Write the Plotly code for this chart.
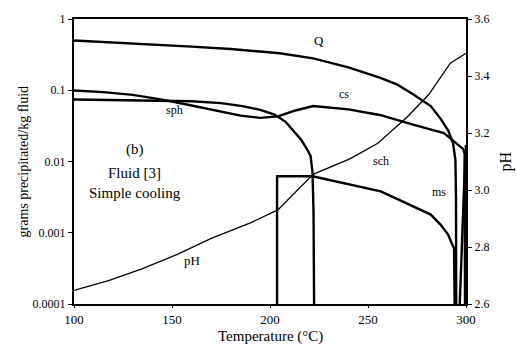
import math
import plotly.graph_objects as go

# Temperature grid (°C) and precipitated amounts (g/kg fluid) per mineral
q_T = [100, 120, 140, 160, 180, 200, 205, 222, 240, 256, 265, 273, 282, 287, 291, 293.4, 294.6, 294.9, 295.0]
q_val = [0.50, 0.47, 0.44, 0.41, 0.38, 0.345, 0.33, 0.28, 0.21, 0.15, 0.12, 0.088, 0.06, 0.04, 0.027, 0.018, 0.0105, 0.003, 0.0001]

cs_T = [100, 115, 130, 145, 160, 175, 185, 195, 204, 213, 222, 240, 256, 273, 282, 288.7, 294, 298.5, 299.3, 299.5]
cs_val = [0.099, 0.094, 0.086, 0.074, 0.061, 0.050, 0.044, 0.041, 0.043, 0.052, 0.060, 0.054, 0.045, 0.033, 0.028, 0.025, 0.019, 0.015, 0.013, 0.0001]

sph_T = [100, 120, 140, 160, 175, 186, 195, 202, 208, 212, 216, 219.2, 220.7, 221.7, 222.2, 222.5]
sph_val = [0.074, 0.073, 0.072, 0.070, 0.066, 0.060, 0.053, 0.046, 0.036, 0.027, 0.020, 0.0144, 0.012, 0.007, 0.002, 0.0001]

sch_T = [203.6, 203.6, 221.7, 230, 241, 256.5, 267, 275, 282, 287, 290.8, 293.9, 294.2]
sch_val = [0.0001, 0.0062, 0.0062, 0.0055, 0.0047, 0.0038, 0.0028, 0.0022, 0.0018, 0.0013, 0.00095, 0.0006, 0.0001]

ms_T = [296.8, 298.0, 299.0, 299.6, 300.0]
ms_val = [0.0001, 0.0009, 0.005, 0.012, 0.017]

# pH of the fluid (right axis)
ph_T = [100, 118, 135, 153, 170, 190, 204, 222, 241, 255, 270, 281, 292, 300]
ph_val = [2.648, 2.683, 2.724, 2.775, 2.830, 2.885, 2.930, 3.055, 3.110, 3.164, 3.256, 3.335, 3.445, 3.48]

x_ticks = [100, 150, 200, 250, 300]
y_ticks = [0.0001, 0.001, 0.01, 0.1, 1]
y_tick_text = ["0.0001", "0.001", "0.01", "0.1", "1"]
ph_ticks = [2.6, 2.8, 3.0, 3.2, 3.4, 3.6]
ph_tick_text = ["2.6", "2.8", "3.0", "3.2", "3.4", "3.6"]

FONT = "Liberation Serif"
thick = dict(color="black", width=2.4)

fig = go.Figure()
for T, v in [(q_T, q_val), (cs_T, cs_val), (sph_T, sph_val), (sch_T, sch_val), (ms_T, ms_val)]:
    fig.add_trace(go.Scatter(x=T, y=v, mode="lines", line=thick, showlegend=False))

fig.add_trace(go.Scatter(x=ph_T, y=ph_val, mode="lines", yaxis="y2",
                         line=dict(color="black", width=1.3), showlegend=False))

# In-plot labels
labels = [
    ("Q", 225, 0.50, 13),
    ("cs", 237.5, 0.088, 12),
    ("sph", 151.5, 0.053, 12),
    ("sch", 256.5, 0.0102, 12),
    ("ms", 286, 0.0037, 12),
    ("pH", 160, 0.00041, 13),
    ("(b)", 131, 0.0148, 15),
    ("Fluid [3]", 131, 0.0069, 15),
    ("Simple cooling", 131, 0.0036, 15),
]
for txt, x, y, size in labels:
    fig.add_annotation(x=x, y=math.log10(y), text=txt, showarrow=False,
                       font=dict(family=FONT, size=size, color="black"),
                       xanchor="center", yanchor="middle")

# Axis titles
fig.add_annotation(x=0, y=0.5, xref="paper", yref="paper", text="grams precipitated/kg fluid",
                   textangle=-90, showarrow=False, xshift=-51,
                   xanchor="center", yanchor="middle",
                   font=dict(family=FONT, size=14, color="black"))
fig.add_annotation(x=1, y=0.5, xref="paper", yref="paper", text="pH",
                   textangle=-90, showarrow=False, xshift=39,
                   xanchor="center", yanchor="middle",
                   font=dict(family=FONT, size=16, color="black"))
fig.add_annotation(x=0.5, y=0, xref="paper", yref="paper", text="Temperature (°C)",
                   showarrow=False, yshift=-32, xanchor="center", yanchor="middle",
                   font=dict(family=FONT, size=15, color="black"))

fig.update_layout(
    width=517, height=345,
    margin=dict(l=74, r=51, t=13, b=41),
    paper_bgcolor="white", plot_bgcolor="white",
    font=dict(family=FONT, size=12, color="black"),
    xaxis=dict(range=[100, 300], tickvals=x_ticks, ticktext=[str(t) for t in x_ticks],
               showgrid=False, zeroline=False, showline=True, linecolor="black", linewidth=2,
               mirror=True, ticks="outside", ticklen=2, tickcolor="black",
               tickfont=dict(family=FONT, size=13)),
    yaxis=dict(type="log", range=[-4, 0], tickvals=y_ticks, ticktext=y_tick_text,
               showgrid=False, zeroline=False, showline=True, linecolor="black", linewidth=2,
               ticks="outside", ticklen=4, tickcolor="black",
               tickfont=dict(family=FONT, size=12)),
    yaxis2=dict(overlaying="y", side="right", range=[2.6, 3.6], tickvals=ph_ticks,
                ticktext=ph_tick_text, showgrid=False, zeroline=False, showline=True,
                linecolor="black", linewidth=2, ticks="outside", ticklen=4, tickcolor="black",
                tickfont=dict(family=FONT, size=12)),
)

fig.write_html("out.html")
